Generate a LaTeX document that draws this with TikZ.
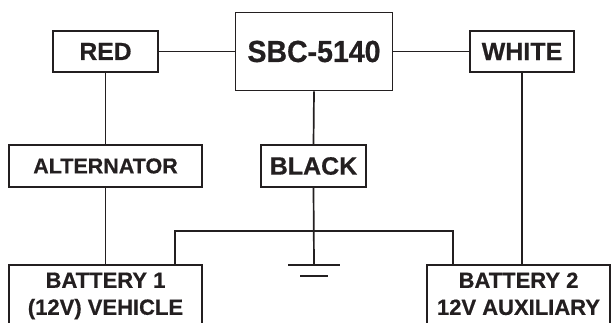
\documentclass[tikz,border=0pt]{standalone}
\usepackage{fontspec}
\setmainfont{Liberation Sans}
\newfontfamily\heavy[FakeBold=0.6]{Liberation Sans Bold}
\definecolor{ink}{HTML}{231F20}
\begin{document}
\begin{tikzpicture}[x=1pt,y=-1pt,
  box/.style={draw=ink,line width=1.7pt,rectangle,inner sep=0pt,text=ink,align=center},
  wire/.style={draw=ink,line width=1.7pt}]
\useasboundingbox (0,0) rectangle (611,323);
\node[box,minimum width=157pt,minimum height=78pt,font=\heavy\fontsize{28.5}{30}\selectfont] (sbc) at (314,51.5) {\scalebox{1}[1.07]{SBC-5140}};
\node[box,minimum width=105pt,minimum height=41pt,font=\heavy\fontsize{24.7}{26}\selectfont] (red) at (105.5,51.5) {RED};
\node[box,minimum width=104pt,minimum height=41pt,font=\heavy\fontsize{25}{26}\selectfont] (white) at (522,51.5) {WHITE};
\node[box,minimum width=193pt,minimum height=42pt,font=\heavy\fontsize{21.5}{23}\selectfont] (alt) at (105.5,166) {ALTERNATOR};
\node[box,minimum width=105pt,minimum height=42pt,font=\heavy\fontsize{25}{26}\selectfont] (black) at (313.5,166) {BLACK};
\node[box,minimum width=193pt,minimum height=62pt,font=\heavy\fontsize{22}{27}\selectfont] (bat1) at (105.5,296) {BATTERY 1\\(12V) VEHICLE};
\node[box,minimum width=183pt,minimum height=62pt,font=\heavy\fontsize{22}{27}\selectfont] (bat2) at (518.5,296) {BATTERY 2\\\vphantom{(}12V AUXILIARY};
\coordinate (gnd) at (314,265);
\coordinate (busl) at (175,231);
\coordinate (busr) at (453,231);
\draw[wire] (red.east) -- (sbc.west |- red.east);
\draw[wire] (sbc.east |- white.west) -- (white.west);
\draw[wire] (red.south) -- (alt.north);
\draw[wire] (alt.south) -- (bat1.north);
\draw[wire] (sbc.south) -- (black.north);
\draw[wire] (black.south) -- (gnd);
\draw[wire] (white.south) -- (white.south |- bat2.north);
\draw[wire] (busl |- bat1.north) -- (busl) -- (busr) -- (busr |- bat2.north);
\draw[wire] ([xshift=-26pt]gnd) -- ([xshift=26pt]gnd);
\draw[wire] ([xshift=-14pt,yshift=-11pt]gnd) -- ([xshift=14pt,yshift=-11pt]gnd);
\end{tikzpicture}
\end{document}
